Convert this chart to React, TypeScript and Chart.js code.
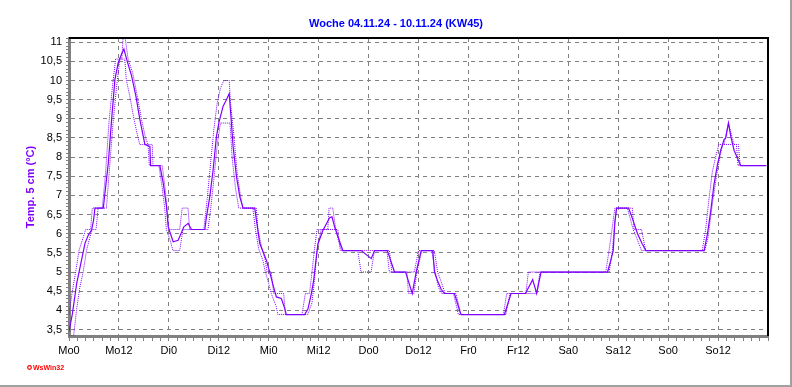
import React, { useEffect, useRef } from 'react';
import { Chart, registerables } from 'chart.js';

Chart.register(...registerables);

const chartTitle = 'Woche 04.11.24 - 10.11.24 (KW45)';
const yAxisTitle = 'Temp. 5 cm (°C)';
const watermarkText = 'WsWin32';

const xTickLabels = ['Mo0', 'Mo12', 'Di0', 'Di12', 'Mi0', 'Mi12', 'Do0', 'Do12', 'Fr0', 'Fr12', 'Sa0', 'Sa12', 'So0', 'So12'];
const xMax = 168;
const xMajorStep = 12;
const xMinorStep = 2;

const yMin = 3.33;
const yMax = 11.11;
const yTickValues = [3.5, 4, 4.5, 5, 5.5, 6, 6.5, 7, 7.5, 8, 8.5, 9, 9.5, 10, 10.5, 11];
const yTickLabels = ['3,5', '4', '4,5', '5', '5,5', '6', '6,5', '7', '7,5', '8', '8,5', '9', '9,5', '10', '10,5', '11'];

// solid line (hours since Monday 0:00, °C)
const solidHours = [0, 0.8, 1.84, 2.8, 3.84, 4.6, 5.44, 5.9, 6.24, 8.24, 9.44, 10.24, 11.04, 11.84, 12.64, 13.2, 13.84, 15.04, 16.08, 17.04, 18.24, 19.44, 19.6, 21.84, 22.64, 23.44, 23.84, 25.04, 26.24, 27.6, 28.64, 29.44, 32.64, 33.04, 33.84, 34.64, 35.44, 36.0, 37.04, 37.84, 38.5, 38.8, 39.44, 40.24, 41.04, 41.84, 44.64, 45.04, 45.84, 46.64, 47.44, 48.24, 49.04, 49.84, 51.04, 51.84, 52.24, 56.64, 57.44, 58.24, 58.8, 59.44, 59.84, 61.04, 62.64, 63.2, 63.84, 64.64, 65.84, 70.24, 72.64, 73.44, 76.5, 78.24, 80.9, 82.5, 83.44, 84.64, 87.44, 87.84, 88.64, 89.44, 90.24, 92.64, 94.0, 94.24, 104.64, 105.44, 106.24, 109.7, 111.44, 112.4, 113.44, 129.44, 130.2, 130.8, 131.2, 131.6, 134.5, 135.4, 136.64, 137.7, 138.64, 152.64, 153.44, 154.24, 155.04, 155.84, 156.64, 157.44, 157.84, 158.5, 159.04, 159.84, 160.64, 161.44, 167.6];
const solidTemps = [3.45, 3.9, 4.7, 5.2, 5.75, 5.95, 6.1, 6.35, 6.67, 6.67, 7.84, 8.98, 10.03, 10.47, 10.69, 10.82, 10.56, 10.12, 9.59, 8.98, 8.33, 8.28, 7.78, 7.78, 7.33, 6.7, 6.18, 5.79, 5.83, 6.18, 6.27, 6.11, 6.11, 6.44, 6.97, 7.67, 8.54, 8.89, 9.33, 9.5, 9.66, 9.24, 8.28, 7.5, 6.97, 6.67, 6.67, 6.36, 5.75, 5.53, 5.31, 5.0, 4.66, 4.35, 4.31, 4.05, 3.89, 3.89, 4.04, 4.43, 4.78, 5.39, 5.74, 6.09, 6.42, 6.44, 6.18, 5.92, 5.56, 5.56, 5.35, 5.56, 5.56, 5.0, 5.0, 4.44, 5.0, 5.56, 5.56, 5.0, 4.75, 4.55, 4.44, 4.44, 3.95, 3.89, 3.89, 4.16, 4.44, 4.44, 4.8, 4.44, 5.0, 5.0, 5.3, 5.56, 6.3, 6.67, 6.67, 6.4, 6.0, 5.75, 5.56, 5.56, 5.99, 6.6, 7.3, 7.8, 8.18, 8.46, 8.5, 8.89, 8.55, 8.18, 7.98, 7.78, 7.78];

// upper dotted line
const upperHours = [0, 0.8, 1.6, 2.4, 3.4, 4.0, 5.2, 5.6, 8.0, 8.8, 9.6, 10.4, 11.2, 12.7, 13.0, 13.5, 14.2, 15.3, 16.4, 17.4, 18.4, 19.0, 20.0, 20.2, 22.4, 23.2, 23.6, 24.0, 26.6, 27.2, 28.6, 29.0, 32.4, 33.2, 34.0, 34.8, 35.6, 36.4, 37.2, 38.5, 38.8, 39.6, 40.4, 41.2, 41.8, 45.0, 45.4, 46.4, 47.2, 47.6, 48.6, 49.2, 51.6, 52.0, 56.0, 56.8, 57.8, 58.4, 59.0, 59.6, 62.2, 62.5, 63.4, 64.0, 64.8, 65.6, 77.0, 77.6, 83.0, 84.0, 87.8, 88.6, 89.6, 90.4, 93.0, 94.2, 104.4, 105.2, 109.8, 110.4, 129.0, 129.8, 130.5, 131.2, 135.4, 135.8, 137.6, 138.6, 152.2, 153.0, 153.8, 154.6, 155.4, 156.2, 157.4, 158.5, 159.8, 160.9, 161.3, 167.6];
const upperTemps = [3.89, 4.5, 5.0, 5.56, 5.9, 6.11, 6.11, 6.67, 6.67, 7.6, 8.9, 9.8, 10.56, 10.56, 11.11, 11.11, 10.56, 10.2, 9.6, 9.0, 8.5, 8.33, 8.33, 7.78, 7.78, 7.1, 6.6, 6.11, 6.11, 6.67, 6.67, 6.11, 6.11, 6.9, 7.8, 8.7, 9.4, 9.8, 10.0, 10.0, 9.44, 8.6, 7.6, 7.0, 6.67, 6.67, 6.11, 5.6, 5.3, 5.0, 5.0, 4.44, 4.44, 3.89, 3.89, 4.44, 4.44, 5.0, 5.6, 6.11, 6.11, 6.67, 6.67, 6.2, 5.8, 5.56, 5.56, 5.0, 5.0, 5.56, 5.56, 5.0, 4.7, 4.44, 4.44, 3.89, 3.89, 4.44, 4.44, 5.0, 5.0, 5.56, 6.11, 6.67, 6.67, 6.11, 6.11, 5.56, 5.56, 6.1, 6.9, 7.6, 8.0, 8.33, 8.33, 8.89, 8.33, 8.33, 7.78, 7.78];

// lower dotted line
const lowerHours = [0, 1.1, 1.8, 2.6, 3.4, 4.2, 5.0, 5.6, 6.5, 7.0, 9.0, 9.8, 10.6, 11.4, 12.2, 13.4, 13.8, 14.6, 15.6, 16.4, 17.0, 19.0, 19.3, 21.6, 22.4, 23.0, 23.4, 24.4, 25.0, 26.6, 27.4, 33.4, 34.0, 34.8, 35.6, 36.4, 38.7, 39.2, 40.0, 40.8, 44.2, 44.8, 45.6, 46.6, 47.2, 48.0, 48.6, 49.8, 50.2, 57.4, 58.4, 59.0, 59.6, 60.6, 64.6, 65.2, 69.4, 70.2, 72.6, 73.4, 76.4, 77.0, 81.2, 81.6, 82.9, 83.6, 84.8, 87.2, 88.0, 88.8, 89.6, 92.4, 93.6, 105.0, 106.0, 112.4, 113.2, 129.8, 130.6, 131.0, 131.6, 134.2, 135.6, 136.4, 137.6, 152.8, 153.6, 154.4, 155.2, 156.0, 156.8, 157.2, 160.4, 160.8, 167.6];
const lowerTemps = [3.33, 3.33, 4.0, 4.6, 5.0, 5.56, 5.9, 6.11, 6.11, 6.67, 6.67, 7.8, 8.9, 9.8, 10.56, 10.56, 10.0, 9.6, 9.0, 8.6, 8.33, 8.33, 7.78, 7.78, 7.2, 6.67, 6.11, 5.8, 5.56, 5.56, 6.11, 6.11, 6.6, 7.4, 8.3, 8.89, 8.89, 8.0, 7.2, 6.67, 6.67, 6.11, 5.6, 5.3, 5.0, 4.7, 4.44, 4.1, 3.89, 3.89, 4.2, 4.8, 5.56, 6.11, 6.11, 5.56, 5.56, 5.0, 5.0, 5.56, 5.56, 5.0, 5.0, 4.44, 4.44, 5.0, 5.56, 5.56, 5.0, 4.6, 4.44, 4.44, 3.89, 3.89, 4.44, 4.44, 5.0, 5.0, 5.56, 6.11, 6.67, 6.67, 6.11, 5.9, 5.56, 5.56, 5.9, 6.6, 7.2, 7.78, 8.2, 8.33, 8.33, 7.78, 7.78];

const FONT = '"Liberation Sans", Arial, sans-serif';
const PURPLE = '#8000ff';
const GRID = '#808080';

const toPoints = (hs: number[], vs: number[]) => hs.map((h, i) => ({ x: h, y: vs[i] }));

const overlayPlugin = {
  id: 'overlay',
  afterDraw(chart: any) {
    const { ctx, chartArea: a, width, height } = chart;
    ctx.save();
    // black frame top/right of plot
    ctx.strokeStyle = '#000000';
    ctx.lineWidth = 2;
    ctx.beginPath();
    ctx.moveTo(a.left, a.top);
    ctx.lineTo(a.right, a.top);
    ctx.lineTo(a.right, a.bottom);
    ctx.stroke();
    // panel edge
    ctx.strokeStyle = '#a0a0a0';
    ctx.lineWidth = 2;
    ctx.beginPath();
    ctx.moveTo(width - 1, 0);
    ctx.lineTo(width - 1, height - 1);
    ctx.lineTo(0, height - 1);
    ctx.stroke();
    // title
    ctx.fillStyle = '#0000ff';
    ctx.font = `bold 11px ${FONT}`;
    ctx.textAlign = 'center';
    ctx.textBaseline = 'middle';
    ctx.fillText(chartTitle, width / 2, 24);
    // watermark
    ctx.fillStyle = '#ff0000';
    ctx.strokeStyle = '#ff0000';
    ctx.lineWidth = 1.2;
    ctx.beginPath();
    ctx.arc(29.5, 367.5, 1.8, 0, Math.PI * 2);
    ctx.stroke();
    ctx.font = `bold 7px ${FONT}`;
    ctx.textAlign = 'left';
    ctx.fillText(watermarkText, 33, 368);
    // y axis title
    ctx.translate(31, 187);
    ctx.rotate(-Math.PI / 2);
    ctx.fillStyle = PURPLE;
    ctx.font = `bold 11px ${FONT}`;
    ctx.textAlign = 'center';
    ctx.fillText(yAxisTitle, 0, 0);
    ctx.restore();
  },
};

export default function App() {
  const canvasRef = useRef<HTMLCanvasElement | null>(null);

  useEffect(() => {
    const canvas = canvasRef.current;
    if (!canvas) return;
    const chart = new Chart(canvas, {
      type: 'line',
      data: {
        datasets: [
          {
            label: 'Temp. 5 cm',
            data: toPoints(solidHours, solidTemps),
            borderColor: PURPLE,
            borderWidth: 1.2,
            pointRadius: 0,
            fill: false,
            tension: 0,
          },
          {
            label: 'max',
            data: toPoints(upperHours, upperTemps),
            borderColor: PURPLE,
            borderWidth: 1,
            borderDash: [1, 1],
            pointRadius: 0,
            fill: false,
            tension: 0,
          },
          {
            label: 'min',
            data: toPoints(lowerHours, lowerTemps),
            borderColor: PURPLE,
            borderWidth: 1,
            borderDash: [1, 1],
            pointRadius: 0,
            fill: false,
            tension: 0,
          },
        ],
      },
      options: {
        animation: false,
        responsive: false,
        devicePixelRatio: 1,
        layout: { padding: { top: 38, right: 24, bottom: 0, left: 0 } },
        plugins: {
          legend: { display: false },
          tooltip: { enabled: false },
          title: { display: false },
        },
        scales: {
          x: {
            type: 'linear',
            min: 0,
            max: xMax,
            afterBuildTicks: (scale: any) => {
              const t: any[] = [];
              for (let h = 0; h <= xMax; h += xMinorStep) t.push({ value: h });
              scale.ticks = t;
            },
            afterFit: (scale: any) => {
              scale.height = 51;
            },
            ticks: {
              autoSkip: false,
              maxRotation: 0,
              padding: 3,
              color: '#000000',
              font: { family: FONT, size: 11 },
              callback: (v: any) => {
                const n = Number(v);
                if (n % xMajorStep !== 0) return '';
                return xTickLabels[n / xMajorStep] ?? '';
              },
            },
            grid: {
              color: (c: any) => {
                const v = c.tick ? c.tick.value : -1;
                return v > 0 && v < xMax && v % xMajorStep === 0 ? GRID : 'rgba(0,0,0,0)';
              },
              lineWidth: 1,
              tickColor: GRID,
              tickLength: 5,
            },
            border: { color: GRID, width: 3, dash: [4, 4] },
          },
          y: {
            type: 'linear',
            min: yMin,
            max: yMax,
            afterBuildTicks: (scale: any) => {
              const t: any[] = [];
              for (let k = 34; k <= 111; k++) t.push({ value: k / 10 });
              scale.ticks = t;
            },
            afterFit: (scale: any) => {
              scale.width = 69;
            },
            ticks: {
              autoSkip: false,
              padding: 4,
              color: '#000000',
              font: { family: FONT, size: 11 },
              callback: (v: any) => {
                const n = Number(v);
                const i = yTickValues.findIndex((t) => Math.abs(t - n) < 1e-6);
                return i >= 0 ? yTickLabels[i] : '';
              },
            },
            grid: {
              color: (c: any) => {
                const v = c.tick ? c.tick.value : 0;
                return yTickValues.some((t) => Math.abs(t - v) < 1e-6) ? GRID : 'rgba(0,0,0,0)';
              },
              lineWidth: 1,
              tickColor: GRID,
              tickLength: 3,
            },
            border: { color: GRID, width: 3, dash: [4, 4] },
          },
        },
      },
      plugins: [overlayPlugin],
    } as any);
    return () => chart.destroy();
  }, []);

  return (
    <div style={{ position: 'absolute', left: 0, top: 0, width: 792, height: 387, background: '#ffffff' }}>
      <canvas ref={canvasRef} width={792} height={387} style={{ display: 'block' }} />
    </div>
  );
}
